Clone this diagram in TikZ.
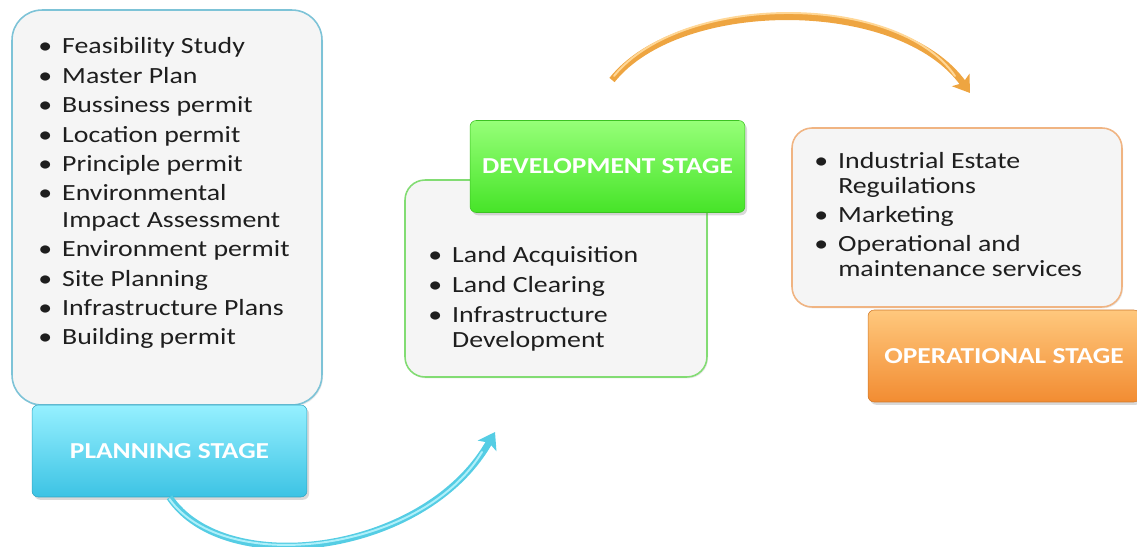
\documentclass[tikz,border=0pt]{standalone}
\usepackage{fontspec}
\setmainfont{Carlito}[FakeStretch=1.2]
\usetikzlibrary{arrows.meta,shadows}

\definecolor{boxgray}{RGB}{245,245,245}
\definecolor{planedge}{RGB}{125,195,215}
\definecolor{plantop}{RGB}{150,240,255}
\definecolor{planbot}{RGB}{60,195,228}
\definecolor{devedge}{RGB}{130,220,115}
\definecolor{devtop}{RGB}{150,255,120}
\definecolor{devbot}{RGB}{70,228,40}
\definecolor{opedge}{RGB}{240,180,130}
\definecolor{optop}{RGB}{255,200,125}
\definecolor{opbot}{RGB}{242,140,50}
\definecolor{cyanline}{RGB}{85,205,228}
\definecolor{cyanlight}{RGB}{175,240,250}
\definecolor{orangeline}{RGB}{238,165,65}
\definecolor{orangelight}{RGB}{255,215,150}
\definecolor{textdark}{RGB}{30,30,30}

\newcommand{\bul}{\makebox[13.6pt][l]{\textbullet}}

\begin{document}
\begin{tikzpicture}[x=0.02cm,y=-0.02cm,
  listbox/.style={draw=#1, line width=0.9pt, fill=boxgray, inner sep=0pt,
    drop shadow={shadow xshift=0.6pt, shadow yshift=-0.8pt, opacity=0.18}},
  stagebox/.style 2 args={rounded corners=3.5pt, inner sep=0pt,
    top color=#1, bottom color=#2, draw=#2!85!black, line width=0.3pt,
    minimum width=5.5cm, minimum height=1.84cm,
    text=white, font=\fontsize{13}{15}\selectfont\bfseries,
    drop shadow={shadow xshift=1.2pt, shadow yshift=-1.6pt, opacity=0.3}},
  items/.style={anchor=base west, inner sep=0pt, text=textdark},
  bend arrow/.style={line width=3.8pt, draw=#1,
    -{Stealth[length=9pt, width=12pt, inset=2pt]}},
  bend light/.style={line width=1.1pt, draw=#1, line cap=round}
]
\useasboundingbox (0,0) rectangle (1137,547);

% Planning stage
\node[listbox=planedge, rounded corners=0.6cm, minimum width=6.2cm,
      minimum height=7.9cm] (planlist) at (167,207.5) {};
\node[items] (planitems) at (38,54)
  {\fontsize{13.2}{15.3}\selectfont
   \begin{tabular}[t]{@{}l@{}l@{}}
   \bul & Feasibility Study\\[1.4pt]
   \bul & Master Plan\\[1.4pt]
   \bul & Bussiness permit\\[1.4pt]
   \bul & Location permit\\[1.4pt]
   \bul & Principle permit\\[1.4pt]
   \bul & Environmental\\
        & Impact Assessment\\[1.4pt]
   \bul & Environment permit\\[1.4pt]
   \bul & Site Planning\\[1.4pt]
   \bul & Infrastructure Plans\\[1.4pt]
   \bul & Building permit
   \end{tabular}};
\node[stagebox={plantop}{planbot}] (planstage) at (169.5,451) {PLANNING STAGE};

% Development stage
\node[listbox=devedge, rounded corners=0.4cm, minimum width=6.04cm,
      minimum height=3.94cm] (devlist) at (556,278.5) {};
\node[items] (devitems) at (428,263)
  {\fontsize{13.2}{14.2}\selectfont
   \begin{tabular}[t]{@{}l@{}l@{}}
   \bul & Land Acquisition\\[2.8pt]
   \bul & Land Clearing\\[2.8pt]
   \bul & Infrastructure\\
        & Development
   \end{tabular}};
\node[stagebox={devtop}{devbot}] (devstage) at (607.5,166.5) {DEVELOPMENT STAGE};

% Operational stage
\node[listbox=opedge, rounded corners=0.4cm, minimum width=6.6cm,
      minimum height=3.58cm] (oplist) at (957,217.5) {};
\node[items] (opitems) at (814,169)
  {\fontsize{13.2}{14.2}\selectfont
   \begin{tabular}[t]{@{}l@{}l@{}}
   \bul & Industrial Estate\\
        & Reguilations\\[2.2pt]
   \bul & Marketing\\[2.2pt]
   \bul & Operational and\\
        & maintenance services
   \end{tabular}};
\node[stagebox={optop}{opbot}, minimum width=5.44cm] (opstage) at (1004,356) {OPERATIONAL STAGE};

% Curved arrows between the stages
\coordinate (cyanend) at (495,432);
\coordinate (orangestart) at (612,80);
\coordinate (orangeend) at (970,93);

\draw[bend arrow=cyanline] (planstage.south) .. controls (225,580) and (425,555) .. (cyanend);
\draw[bend light=cyanlight] ([yshift=-1pt]planstage.south) .. controls (225,577) and (422,552) .. (482,452);

\draw[bend arrow=orangeline] (orangestart) .. controls (680,-5) and (900,-5) .. (orangeend);
\draw[bend light=orangelight] (614,76) .. controls (682,-8) and (898,-8) .. (955,76);
\end{tikzpicture}
\end{document}
